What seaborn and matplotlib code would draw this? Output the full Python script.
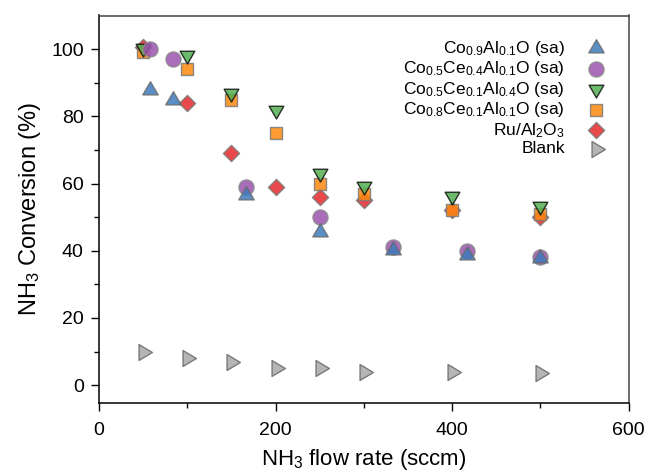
import numpy as np
import pandas as pd
import matplotlib
matplotlib.use("Agg")
import matplotlib.pyplot as plt
from matplotlib.path import Path
import seaborn as sns

# NH3 flow rates (sccm)
flow_a = [50, 100, 150, 200, 250, 300, 400, 500]
flow_b = [58.3, 83.3, 166.7, 250, 333.3, 416.7, 500]

# NH3 conversion (%)
conv_co09 = [87.8, 84.9, 56.6, 45.6, 40.1, 38.8, 37.8]
conv_co05ce04 = [100, 97, 59, 50, 41, 40, 38]
conv_co05ce01 = [100.3, 98.3, 87, 82, 63.2, 59.2, 56.4, 53.2]
conv_co08ce01 = [99, 94, 85, 75, 60, 57, 52, 51]
conv_ru = [100.5, 84, 69, 59, 56, 55, 52, 50]
conv_blank = [10, 8, 7, 5, 5, 4, 3.8, 3.7]

labels = [
    r"Co$_{0.9}$Al$_{0.1}$O (sa)",
    r"Co$_{0.5}$Ce$_{0.4}$Al$_{0.1}$O (sa)",
    r"Co$_{0.5}$Ce$_{0.1}$Al$_{0.4}$O (sa)",
    r"Co$_{0.8}$Ce$_{0.1}$Al$_{0.1}$O (sa)",
    r"Ru/Al$_2$O$_3$",
    "Blank",
]

sns.set_style("ticks")
plt.rcParams["font.family"] = ["Liberation Sans", "DejaVu Sans"]
plt.rcParams["mathtext.default"] = "regular"
for key in ["text.color", "axes.labelcolor", "xtick.color", "ytick.color"]:
    plt.rcParams[key] = "black"


def tri(direction, w, h):
    """Triangle marker centred on its centroid."""
    if direction == "up":
        v = [(0, 2 * h / 3), (-w / 2, -h / 3), (w / 2, -h / 3)]
    elif direction == "down":
        v = [(0, -2 * h / 3), (-w / 2, h / 3), (w / 2, h / 3)]
    else:  # right
        v = [(2 * w / 3, 0), (-w / 3, h / 2), (-w / 3, -h / 2)]
    v = v + [v[0]]
    return Path(v, closed=True)


series = [
    # (x, y, colour, marker, size, edge)
    (flow_b, conv_co09, "#3D7BBC", tri("up", 16, 13.7), 160, "#6a6a6a"),
    (flow_b, conv_co05ce04, "#9A53AE", "o", 118, "#8a8a8a"),
    (flow_a, conv_co05ce01, "#53AF50", tri("down", 15.3, 13.3), 150, "#111111"),
    (flow_a, conv_co08ce01, "#FD880E", "s", 72, "#7a7a7a"),
    (flow_a, conv_ru, "#E4292B", "D", 68, "#7a7a7a"),
    (flow_a, conv_blank, "#A8A8A8", tri("right", 14, 16.7), 165, "#6a6a6a"),
]

fig = plt.figure(figsize=(6.46, 4.72), dpi=100)
ax = fig.add_axes([99 / 646, 1 - 403 / 472, 529.5 / 646, (403 - 15.5) / 472])

# draw in reverse so the first entries end up on top
for (x, y, col, mk, s, ec), lab in reversed(list(zip(series, labels))):
    df = pd.DataFrame({"flow": x, "conv": y})
    sns.scatterplot(data=df, x="flow", y="conv", ax=ax, color=col, marker=mk,
                    s=s, edgecolor=ec, linewidth=1.0, alpha=0.85, label=lab)

handles, labs = ax.get_legend_handles_labels()
order = [labs.index(l) for l in labels]
ax.legend([handles[i] for i in order], [labs[i] for i in order],
          loc="upper right", bbox_to_anchor=(0.972, 0.958), frameon=False,
          markerfirst=False, fontsize=12.5, labelspacing=0.09,
          handletextpad=1.2, borderaxespad=0.0, handlelength=1.2)

ax.set_xlim(0, 600)
ax.set_ylim(-5.3, 110)
ax.set_xticks([0, 200, 400, 600])
ax.set_xticks([100, 300, 500], minor=True)
ax.set_yticks([0, 20, 40, 60, 80, 100])
ax.set_yticks([10, 30, 50, 70, 90], minor=True)
ax.tick_params(axis="both", which="major", direction="out", length=6,
               width=1, labelsize=14, colors="black")
ax.tick_params(axis="both", which="minor", direction="out", length=3.5,
               width=1, colors="black")
ax.tick_params(axis="x", pad=8)
ax.tick_params(axis="y", pad=5)
for side in ["left", "bottom"]:
    ax.spines[side].set_linewidth(1.1)
    ax.spines[side].set_color("black")
for side in ["top", "right"]:
    ax.spines[side].set_visible(True)
    ax.spines[side].set_linewidth(1.1)
    ax.spines[side].set_color("#444444")

ax.set_xlabel(r"NH$_3$ flow rate (sccm)", fontsize=16, labelpad=5.5)
ax.set_ylabel(r"NH$_3$ Conversion (%)", fontsize=17, labelpad=6)

fig.savefig("out.png", dpi=100)
